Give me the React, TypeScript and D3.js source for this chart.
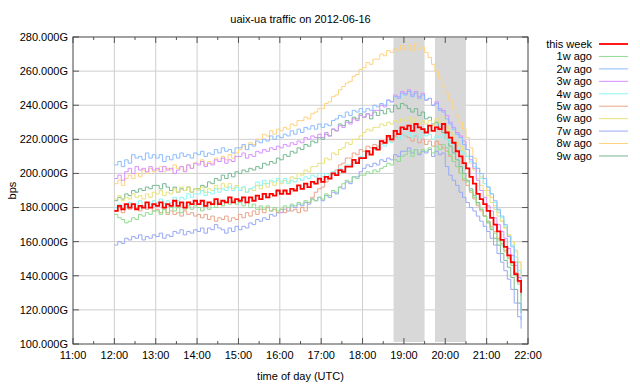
import React from "react";
import * as d3 from "d3";

// ---- data (values in Gbps, one sample every 5 minutes from 12:00) ----
const startHour = 12;
const stepMinutes = 5;

const thisWeek = [
  178,181,179,182,180,182,179,181,180,183,180,182,
  181,183,180,182,181,184,181,183,180,183,182,184,
  182,184,181,183,182,185,182,184,183,186,183,185,
  184,186,183,186,184,187,185,188,186,188,187,190,
  188,190,188,191,190,193,191,194,192,195,194,197,
  195,198,197,200,199,202,201,204,204,208,206,209,
  209,213,211,215,214,219,218,222,220,225,223,227,
  226,228,225,229,227,226,224,228,225,227,226,229,
  224,221,218,213,210,206,203,198,194,188,185,182,
  178,174,170,166,161,157,152,148,141,137,130,
];
const w1 = [
  176,174,173,171,172,174,173,176,175,177,176,178,
  178,176,179,177,180,178,180,177,179,181,179,181,
  180,178,181,179,182,180,183,181,183,182,184,182,
  183,181,183,180,182,179,181,179,181,178,180,178,
  179,181,180,182,181,183,182,184,183,185,184,186,
  185,188,187,190,189,192,194,196,195,198,197,199,
  199,201,200,202,201,203,204,206,205,208,207,210,
  211,213,210,214,212,214,213,215,212,216,214,217,
  215,211,207,204,200,197,195,190,186,182,179,175,
  172,168,165,161,158,154,150,146,140,135,125,
];
const w2 = [
  205,207,204,208,206,211,209,210,208,212,209,211,
  209,211,207,210,208,211,209,212,210,211,209,212,
  211,213,210,212,211,214,212,215,213,214,212,215,
  215,217,214,217,216,219,218,220,219,222,220,222,
  221,223,222,225,223,226,224,227,226,228,226,229,
  227,229,228,231,232,234,233,236,234,237,236,238,
  236,238,237,240,239,241,240,243,242,245,244,247,
  246,248,245,247,244,246,243,244,240,241,237,236,
  232,229,226,223,221,217,214,210,206,203,200,197,
  192,188,184,179,175,170,163,157,148,137,114,
];
const w3 = [
  197,199,196,201,203,200,204,202,203,201,204,202,
  203,201,204,202,203,200,202,204,201,205,203,206,
  205,207,204,206,205,208,207,209,206,208,207,210,
  210,212,209,211,210,213,212,214,213,215,214,216,
  215,217,216,218,217,219,218,221,220,222,221,223,
  221,224,222,226,225,228,227,230,229,232,231,234,
  233,235,234,237,237,240,239,243,242,246,245,248,
  247,249,246,248,245,247,243,244,240,242,238,237,
  234,230,227,224,222,219,214,208,203,196,190,186,
  181,178,174,170,166,162,156,152,146,139,130,
];
const w4 = [
  180,182,179,181,183,180,182,184,181,183,182,184,
  183,185,182,184,183,186,184,186,185,188,186,188,
  188,190,187,189,188,191,189,191,190,192,190,192,
  190,192,189,191,192,195,193,196,194,196,195,197,
  195,197,194,196,195,197,196,198,197,199,198,200,
  198,200,199,201,200,203,202,205,205,208,207,210,
  209,212,211,214,214,217,216,219,218,221,220,223,
  222,224,221,223,221,224,222,223,220,222,221,223,
  220,218,217,215,213,212,210,207,204,200,197,194,
  192,188,183,178,174,169,163,158,151,143,130,
];
const w5 = [
  178,180,177,181,179,182,180,178,181,179,180,178,
  179,177,179,176,178,176,177,175,178,176,177,175,
  176,174,176,173,175,172,174,173,175,172,174,173,
  176,174,177,175,178,176,179,177,180,178,179,177,
  179,177,180,178,179,177,180,178,183,186,189,191,
  192,195,197,200,202,205,206,209,209,212,211,214,
  213,216,215,217,216,219,218,221,219,222,220,223,
  222,221,219,222,218,220,217,219,216,219,217,215,
  213,210,207,204,200,196,193,189,185,181,178,175,
  172,169,166,162,159,155,151,147,142,136,128,
];
const w6 = [
  185,187,184,186,185,188,186,187,185,188,186,189,
  188,190,187,189,188,191,189,192,190,192,189,191,
  190,192,189,191,190,193,191,194,192,194,191,193,
  190,192,189,191,190,193,191,194,192,195,193,196,
  194,196,195,198,197,200,199,202,201,204,204,206,
  206,209,208,212,211,214,215,218,217,220,220,222,
  224,226,225,227,227,229,228,230,229,231,230,232,
  231,233,230,232,229,231,229,231,228,232,230,233,
  227,224,221,218,216,213,210,206,202,197,193,190,
  187,183,179,175,172,168,164,160,154,148,140,
];
const w7 = [
  158,160,159,162,161,163,162,164,161,163,162,164,
  163,165,162,164,163,166,165,167,164,166,165,167,
  166,168,165,168,167,170,168,167,165,168,166,169,
  167,169,168,171,170,173,172,174,173,176,175,177,
  177,179,178,181,180,182,181,183,182,185,184,186,
  184,187,186,189,188,192,191,195,194,198,198,201,
  203,205,204,206,205,208,207,209,208,211,210,213,
  213,215,212,214,211,213,212,214,210,213,211,212,
  204,199,196,193,189,186,183,180,178,175,172,169,
  166,162,158,153,148,143,138,132,124,116,109,
];
const w8 = [
  194,196,193,197,199,197,200,198,202,200,203,201,
  202,204,201,203,202,205,203,204,202,205,203,206,
  206,208,205,207,206,209,207,210,208,211,209,212,
  214,216,214,218,217,220,220,223,222,225,223,226,
  225,227,226,229,228,231,231,233,232,235,236,238,
  238,241,242,245,246,249,251,253,254,257,258,261,
  262,265,264,267,267,270,269,272,271,273,272,275,
  273,275,272,276,273,274,271,268,264,260,256,251,
  247,243,238,234,230,226,221,215,209,203,198,194,
  190,186,181,177,172,168,164,160,155,148,140,
];
const w9 = [
  184,186,185,188,187,190,189,191,190,192,191,193,
  193,191,194,192,190,192,189,191,190,192,189,191,
  191,193,192,195,194,197,196,199,197,200,198,201,
  200,202,201,203,202,204,203,206,205,207,206,209,
  208,211,210,213,212,215,214,217,216,219,218,221,
  220,223,222,226,225,229,228,231,230,233,232,235,
  233,235,232,236,234,237,235,238,236,240,238,241,
  240,238,236,238,234,236,232,233,229,230,226,224,
  220,216,212,208,204,200,196,191,187,183,179,175,
  171,167,162,158,153,149,145,139,132,124,118,
];

const seriesNames = ["this week", "1w ago", "2w ago", "3w ago", "4w ago", "5w ago", "6w ago", "7w ago", "8w ago", "9w ago"];
const seriesValues = [thisWeek, w1, w2, w3, w4, w5, w6, w7, w8, w9];
const seriesColors = ["#ff0000", "#8fdc8f", "#8cbcff", "#d890ff", "#8cf4f4", "#eaa488", "#e8e27a", "#9aa8f4", "#ffd27e", "#76b892"];

const xTicks = [11, 12, 13, 14, 15, 16, 17, 18, 19, 20, 21, 22];
const xTickLabels = ["11:00", "12:00", "13:00", "14:00", "15:00", "16:00", "17:00", "18:00", "19:00", "20:00", "21:00", "22:00"];
const yTicks = [100, 120, 140, 160, 180, 200, 220, 240, 260, 280];
const bands = [[18.75, 19.5], [19.75, 20.5]];

const title = "uaix-ua traffic on 2012-06-16";
const xLabel = "time of day (UTC)";
const yLabel = "bps";

const W = 640, H = 384;
const M = { left: 73, right: 528, top: 37, bottom: 344 };
const FONT = "'Liberation Sans', Arial, Helvetica, sans-serif";

export default function App() {
  const x = d3.scaleLinear().domain([11, 22]).range([M.left, M.right]);
  const y = d3.scaleLinear().domain([100, 280]).range([M.bottom, M.top]);

  const line = d3
    .line<number>()
    .x((_, i) => x(startHour + (i * stepMinutes) / 60))
    .y((d) => y(d))
    .curve(d3.curveStepAfter);

  const minorTicks = d3.range(11.5, 22, 1);
  const drawOrder = d3.range(seriesValues.length).reverse();

  return (
    <svg width={W} height={H} style={{ position: "absolute", left: 0, top: 0, background: "#fff" }} fontFamily={FONT}>
      <rect x={0} y={0} width={W} height={H} fill="#fff" />
      {/* grid */}
      {xTicks.slice(1, -1).map((t) => (
        <line key={"gx" + t} x1={x(t)} x2={x(t)} y1={M.top} y2={M.bottom} stroke="#cfcfcf" strokeWidth={1} />
      ))}
      {yTicks.slice(1, -1).map((t) => (
        <line key={"gy" + t} x1={M.left} x2={M.right} y1={y(t)} y2={y(t)} stroke="#cfcfcf" strokeWidth={1} />
      ))}
      {/* shaded bands */}
      {bands.map(([a, b], i) => (
        <rect key={"b" + i} x={x(a)} y={M.top + 1} width={x(b) - x(a)} height={M.bottom - M.top - 3} fill="#d8d8d8" />
      ))}
      {/* series */}
      {drawOrder.map((i) => (
        <path
          key={"s" + i}
          d={line(seriesValues[i]) || ""}
          fill="none"
          stroke={seriesColors[i]}
          strokeWidth={i === 0 ? 1.8 : 1}
        />
      ))}
      {/* ticks */}
      {yTicks.map((t) => (
        <g key={"ty" + t}>
          <line x1={M.left} x2={M.left + 6} y1={y(t)} y2={y(t)} stroke="#555" />
          <line x1={M.right - 6} x2={M.right} y1={y(t)} y2={y(t)} stroke="#555" />
          <text x={68} y={y(t)} dy="0.35em" textAnchor="end" fontSize={11} fill="#000">
            {t.toFixed(3) + "G"}
          </text>
        </g>
      ))}
      {xTicks.map((t, i) => (
        <g key={"tx" + t}>
          <line x1={x(t)} x2={x(t)} y1={M.bottom} y2={M.bottom - 6} stroke="#555" />
          <line x1={x(t)} x2={x(t)} y1={M.top} y2={M.top + 6} stroke="#555" />
          <text x={x(t)} y={359} textAnchor="middle" fontSize={11} fill="#000">
            {xTickLabels[i]}
          </text>
        </g>
      ))}
      {minorTicks.map((t) => (
        <g key={"mx" + t}>
          <line x1={x(t)} x2={x(t)} y1={M.bottom} y2={M.bottom - 3} stroke="#555" />
          <line x1={x(t)} x2={x(t)} y1={M.top} y2={M.top + 3} stroke="#555" />
        </g>
      ))}
      {/* border */}
      <rect x={M.left} y={M.top} width={M.right - M.left} height={M.bottom - M.top} fill="none" stroke="#444" strokeWidth={1} />
      {/* labels */}
      <text x={(M.left + M.right) / 2} y={23} textAnchor="middle" fontSize={11}>{title}</text>
      <text x={(M.left + M.right) / 2} y={380} textAnchor="middle" fontSize={11}>{xLabel}</text>
      <text transform={`translate(16,${(M.top + M.bottom) / 2}) rotate(-90)`} textAnchor="middle" fontSize={11}>{yLabel}</text>
      {/* legend */}
      {seriesNames.map((n, i) => {
        const ly = 44 + i * 12.44;
        return (
          <g key={"l" + i}>
            <text x={592} y={ly} dy="0.35em" textAnchor="end" fontSize={11}>{n}</text>
            <line x1={599} x2={628} y1={ly} y2={ly} stroke={seriesColors[i]} strokeWidth={i === 0 ? 1.8 : 1} />
          </g>
        );
      })}
    </svg>
  );
}
